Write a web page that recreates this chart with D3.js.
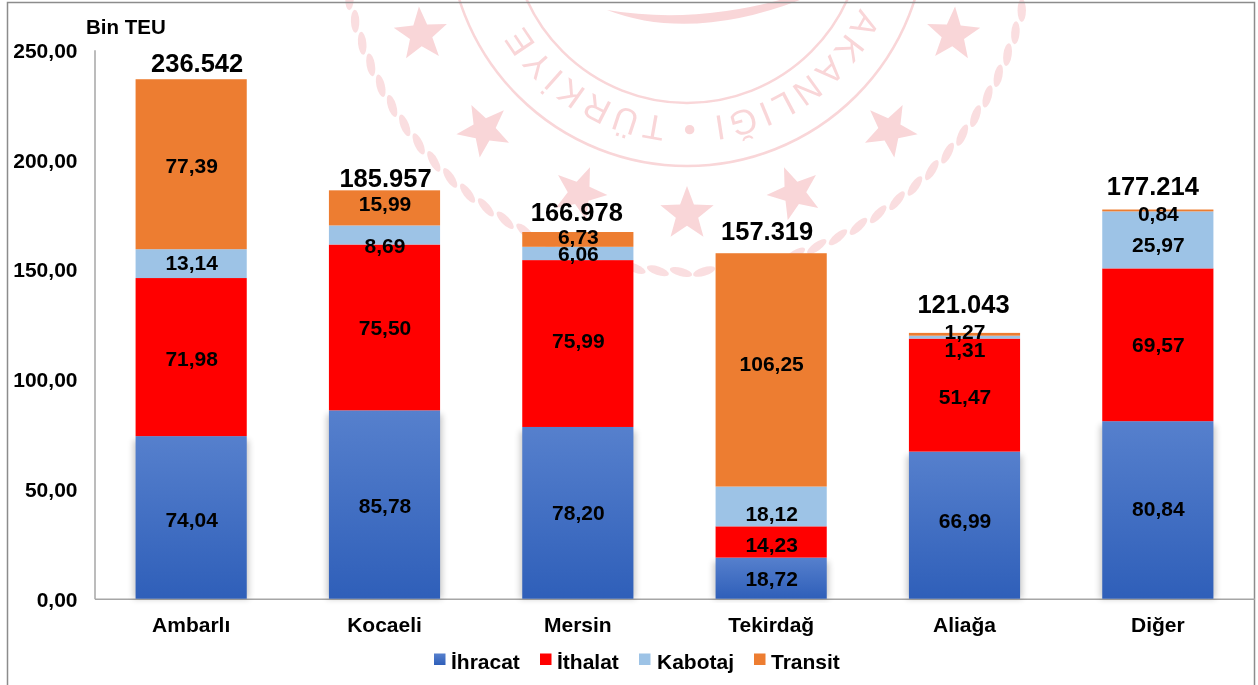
<!DOCTYPE html>
<html><head><meta charset="utf-8">
<script src="https://cdn.jsdelivr.net/npm/d3@7/dist/d3.min.js"></script>
<style>html,body{margin:0;padding:0;background:#fff}svg{display:block}text{font-family:"Liberation Sans",Arial,sans-serif;font-weight:700;fill:#000}</style>
</head><body><svg id="c" width="1258" height="685"></svg>
<script>
const categories=["Ambarlı","Kocaeli","Mersin","Tekirdağ","Aliağa","Diğer"];
const ihracat=[74.04,85.78,78.20,18.72,66.99,80.84];
const ithalat=[71.98,75.50,75.99,14.23,51.47,69.57];
const kabotaj=[13.14,8.69,6.06,18.12,1.31,25.97];
const transit=[77.39,15.99,6.73,106.25,1.27,0.84];
const totals=["236.542","185.957","166.978","157.319","121.043","177.214"];
const seriesNames=["İhracat","İthalat","Kabotaj","Transit"];
const yTicks=[0,50,100,150,200,250];
const unitLabel="Bin TEU";

const colors=["url(#blue)","#ff0000","#9dc3e6","#ed7d31"];
const seriesArr=[ihracat,ithalat,kabotaj,transit];
const svg=d3.select("#c");
const defs=svg.append("defs");
const g=defs.append("linearGradient").attr("id","blue").attr("x1",0).attr("x2",0).attr("y1",0).attr("y2",1);
g.append("stop").attr("offset",0).attr("stop-color","#5680cd");
g.append("stop").attr("offset",1).attr("stop-color","#2f5fb9");
const f=defs.append("filter").attr("id","shadow").attr("x","-10%").attr("width","120%");
f.append("feGaussianBlur").attr("stdDeviation",3);

const x=d3.scaleBand().domain(categories).range([94.5,1254.5]).paddingInner(0.425).paddingOuter(0.2125);
const y=d3.scaleLinear().domain([0,250]).range([598.7,49.7]);

// watermark (decorative seal, behind the chart)
const wm=svg.append("g").attr("opacity",0.2);
const cx=687,cy=-73,red="#e2323f";
[176,239].forEach(r=>wm.append("circle").attr("cx",cx).attr("cy",cy).attr("r",r).attr("fill","none").attr("stroke",red).attr("stroke-width",2.5));
const R=191, a0=Math.PI*0.12, a1=Math.PI*0.88;
defs.append("path").attr("id","arcp").attr("d",`M ${cx+R*Math.cos(a0)} ${cy+R*Math.sin(a0)} A ${R} ${R} 0 0 1 ${cx+R*Math.cos(a1)} ${cy+R*Math.sin(a1)}`);
wm.append("text").attr("font-size",35).style("fill",red).style("font-weight",400).attr("letter-spacing",4)
 .append("textPath").attr("href","#arcp").attr("startOffset","50%").attr("text-anchor","middle").text("BAKANLIĞI • TÜRKİYE C");
function star(r){return "M"+d3.range(10).map(i=>{const a=-Math.PI/2+i*Math.PI/5,q=i%2?r*.42:r;return [q*Math.cos(a),q*Math.sin(a)];}).join("L")+"Z";}
[-68,-45,-22,0,22,45,68].forEach(deg=>{
  const t=deg*Math.PI/180, r=287;
  wm.append("path").attr("d",star(28)).attr("fill",red)
    .attr("transform",`translate(${cx+r*Math.sin(t)},${cy+r*Math.cos(t)}) rotate(${-deg})`);
});
d3.range(-78,79,3.85).forEach(deg=>{
  const t=deg*Math.PI/180, r=345;
  wm.append("ellipse").attr("rx",11.5).attr("ry",4.2).attr("fill",red).attr("opacity",.8)
    .attr("transform",`translate(${cx+r*Math.sin(t)},${cy+r*Math.cos(t)}) rotate(${-deg+(deg<0?14:-14)})`);
});
wm.append("path").attr("fill",red).attr("d","M607 10 Q690 42 800 0 L780 0 Q690 24 607 10Z");

// frame
svg.append("rect").attr("x",7.5).attr("y",2.5).attr("width",1247).attr("height",690).attr("fill","none").attr("stroke","#8c8c8c").attr("stroke-width",1.5);

// axes
const font=21;
const ya=d3.axisLeft(y).tickValues(yTicks).tickSize(0).tickPadding(17).tickFormat(d=>d3.format(".2f")(d).replace(".",","));
const yg=svg.append("g").attr("transform","translate(94.5,0)").call(ya);
yg.select(".domain").attr("stroke","#a6a6a6").attr("stroke-width",1.5);
yg.selectAll("text").attr("font-size",font).attr("dy","0.36em").style("font-family",'"Liberation Sans"');
const xa=d3.axisBottom(x).tickSize(0).tickPadding(18);
const xg=svg.append("g").attr("transform","translate(0,598.7)").call(xa);
xg.select(".domain").attr("stroke","#a6a6a6").attr("stroke-width",1.5);
xg.selectAll("text").attr("font-size",font).attr("dy","0.71em").style("font-family",'"Liberation Sans"');

// bars
const stack=d3.stack().keys(d3.range(4)).value((d,k)=>seriesArr[k][d])(d3.range(6));
svg.append("g").selectAll("rect").data(stack[0]).join("rect").attr("filter","url(#shadow)")
  .attr("x",(d,i)=>x(categories[i])-2).attr("width",x.bandwidth()+4)
  .attr("y",d=>y(d[1])+4).attr("height",d=>y(d[0])-y(d[1])-4).attr("fill","#000").attr("opacity",.22);
stack.forEach((s,k)=>{
  svg.append("g").selectAll("rect").data(s).join("rect")
   .attr("x",(d,i)=>x(categories[i])).attr("width",x.bandwidth())
   .attr("y",d=>y(d[1])).attr("height",d=>y(d[0])-y(d[1])).attr("fill",colors[k]);
});
// label nudges (px) per series/category
const nudge=[[2,1,0,0,-5,-1],[1,0,-3,2,1,0],[-1,10,0,7,12,5],[1,-4,-3,-6,-3,3]];
stack.forEach((s,k)=>{
  svg.append("g").selectAll("text").data(s).join("text")
   .attr("x",(d,i)=>x(categories[i])+x.bandwidth()/2+.5).attr("y",(d,i)=>(y(d[0])+y(d[1]))/2+nudge[k][i])
   .attr("dy","0.36em").attr("text-anchor","middle").attr("font-size",font)
   .text((d,i)=>seriesArr[k][i].toFixed(2).replace(".",","));
});
const totalDx=[6,1,-1,-4,-1,-5], totalGap=[7,3,11,13,20,15];
svg.append("g").selectAll("text").data(stack[3]).join("text")
  .attr("x",(d,i)=>x(categories[i])+x.bandwidth()/2+totalDx[i]).attr("y",(d,i)=>y(d[1])-totalGap[i]).attr("text-anchor","middle")
  .attr("font-size",25.5).text((d,i)=>totals[i]);
svg.append("text").attr("x",86).attr("y",34).attr("font-size",20.5).text(unitLabel);

// legend
const lx=[434,540,639,754],tx=[451,557,657,771];
seriesNames.forEach((n,i)=>{
  svg.append("rect").attr("x",lx[i]).attr("y",653.5).attr("width",11.5).attr("height",11.5).attr("fill",colors[i]);
  svg.append("text").attr("x",tx[i]).attr("y",669).attr("font-size",font).text(n);
});
</script></body></html>
